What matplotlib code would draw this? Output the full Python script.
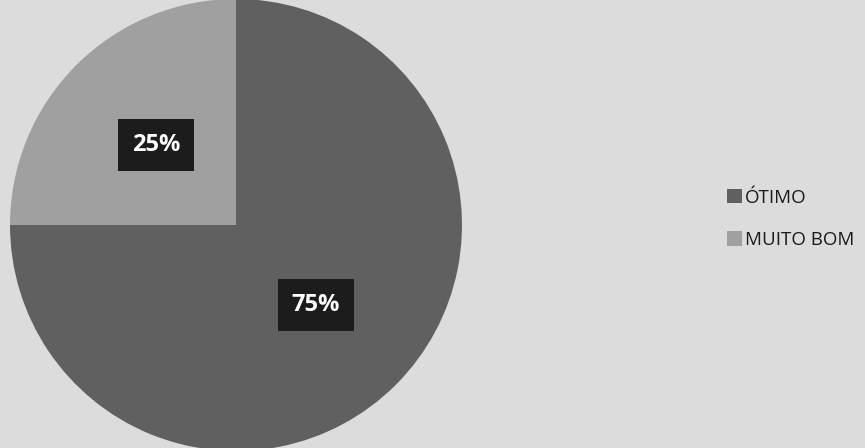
import matplotlib.pyplot as plt
from matplotlib.patches import Patch

categories = ['ÓTIMO', 'MUITO BOM']
values = [75, 25]
colors = ['#606060', '#a0a0a0']

W, H = 865, 448
fig = plt.figure(figsize=(W / 100, H / 100), dpi=100)
fig.patch.set_facecolor('#dcdcdc')

# pie centre ~ (236, 225) px from top-left, radius ~ 226 px
cx, cy, r = 236, 225, 226
ax = fig.add_axes([(cx - r) / W, (H - cy - r) / H, 2 * r / W, 2 * r / H])
ax.set_facecolor('none')

wedges, texts, autotexts = ax.pie(
    values, colors=colors, startangle=90, counterclock=False,
    autopct='%d%%', pctdistance=0.5, radius=1,
    wedgeprops=dict(linewidth=0),
    textprops=dict(color='white', fontsize=17, fontweight='bold',
                   family=['Open Sans', 'DejaVu Sans']))
for t in autotexts:
    t.set_bbox(dict(boxstyle='square,pad=0.6', facecolor='#1c1c1c',
                    edgecolor='none'))
ax.set_xlim(-1, 1)
ax.set_ylim(-1, 1)
ax.set_aspect('equal')
ax.axis('off')

handles = [Patch(facecolor=c, edgecolor='none') for c in colors]
leg = fig.legend(handles, categories, loc='center left',
                 bbox_to_anchor=(710 / W, 1 - 219 / H), frameon=False,
                 prop=dict(family=['Open Sans', 'DejaVu Sans'], size=13.5),
                 handlelength=0.8, handleheight=0.8, handletextpad=0.15,
                 labelspacing=1.3)
for t in leg.get_texts():
    t.set_color('#1a1a1a')

fig.savefig('out.png', dpi=100, facecolor=fig.get_facecolor())
